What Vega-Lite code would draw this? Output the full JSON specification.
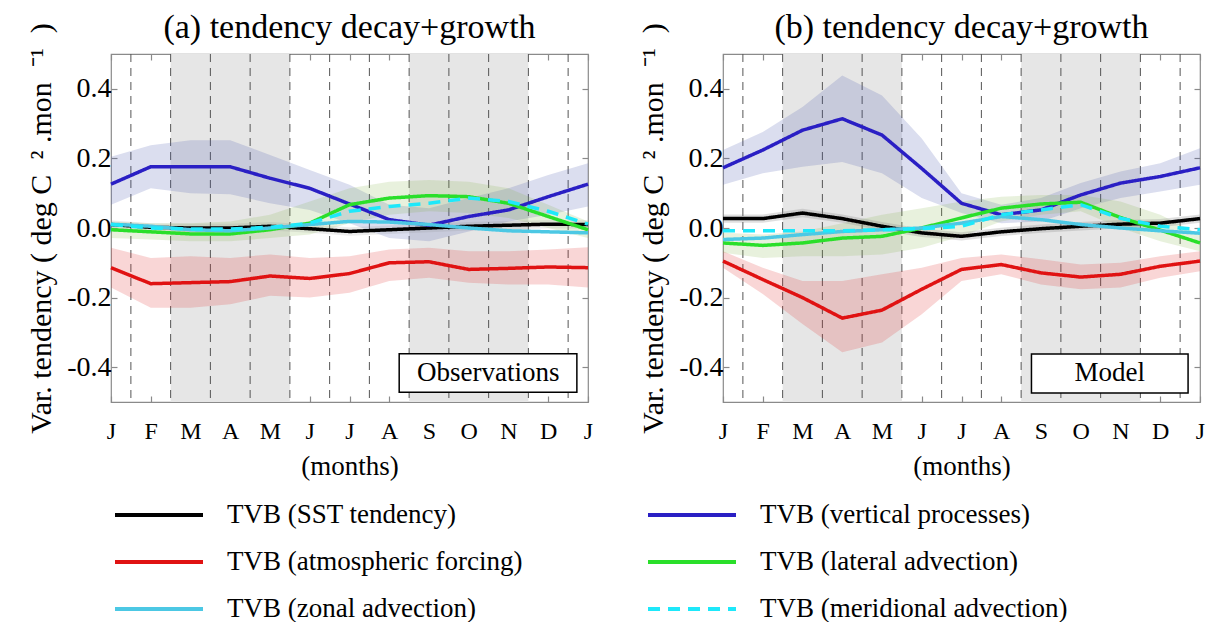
{
  "$schema": "https://vega.github.io/schema/vega-lite/v6.json",
  "padding": {"left": 26, "top": 10, "right": 0, "bottom": 0},
  "background": "white",
  "config": {
    "font": "Liberation Serif",
    "view": {"stroke": "#8a8a8a", "strokeWidth": 1.2},
    "title": {"font": "Liberation Serif", "fontSize": 34, "fontWeight": "normal", "color": "black", "offset": -22},
    "axis": {"labelFont": "Liberation Serif", "titleFont": "Liberation Serif", "labelColor": "black", "titleColor": "black", "titleFontWeight": "normal", "grid": false, "domain": false, "tickColor": "#8a8a8a", "tickWidth": 1.2},
    "legend": {"orient": "none", "legendX": 2, "legendY": 446, "columns": 2, "symbolType": "stroke", "symbolSize": 7744, "symbolStrokeWidth": 4, "clipHeight": 30, "labelFont": "Liberation Serif", "labelFontSize": 27, "labelColor": "black", "labelOffset": 22, "columnPadding": 123, "rowPadding": 17, "labelLimit": 600}
  },
  "datasets": {
    "one": [{}],
    "shade": [{"start": 1.5, "end": 4.5}, {"start": 7.5, "end": 10.5}],
    "grid": [{"m": 0.5}, {"m": 1.5}, {"m": 2.5}, {"m": 3.5}, {"m": 4.5}, {"m": 5.5}, {"m": 6.5}, {"m": 7.5}, {"m": 8.5}, {"m": 9.5}, {"m": 10.5}, {"m": 11.5}],
    "series": [
      {"p":"a","s":"TVB (SST tendency)","m":0,"v":0.01,"lo":-0.002,"hi":0.022},
      {"p":"a","s":"TVB (SST tendency)","m":1,"v":0.002,"lo":-0.01,"hi":0.014},
      {"p":"a","s":"TVB (SST tendency)","m":2,"v":0,"lo":-0.012,"hi":0.012},
      {"p":"a","s":"TVB (SST tendency)","m":3,"v":0,"lo":-0.012,"hi":0.012},
      {"p":"a","s":"TVB (SST tendency)","m":4,"v":0.005,"lo":-0.007,"hi":0.017},
      {"p":"a","s":"TVB (SST tendency)","m":5,"v":-0.002,"lo":-0.014,"hi":0.01},
      {"p":"a","s":"TVB (SST tendency)","m":6,"v":-0.01,"lo":-0.022,"hi":0.002},
      {"p":"a","s":"TVB (SST tendency)","m":7,"v":-0.005,"lo":-0.017,"hi":0.007},
      {"p":"a","s":"TVB (SST tendency)","m":8,"v":0,"lo":-0.012,"hi":0.012},
      {"p":"a","s":"TVB (SST tendency)","m":9,"v":0.005,"lo":-0.007,"hi":0.017},
      {"p":"a","s":"TVB (SST tendency)","m":10,"v":0.008,"lo":-0.004,"hi":0.02},
      {"p":"a","s":"TVB (SST tendency)","m":11,"v":0.011,"lo":-0.001,"hi":0.023},
      {"p":"a","s":"TVB (SST tendency)","m":12,"v":0.01,"lo":-0.002,"hi":0.022},
      {"p":"a","s":"TVB (vertical processes)","m":0,"v":0.126,"lo":0.067,"hi":0.205},
      {"p":"a","s":"TVB (vertical processes)","m":1,"v":0.176,"lo":0.114,"hi":0.238},
      {"p":"a","s":"TVB (vertical processes)","m":2,"v":0.176,"lo":0.1,"hi":0.252},
      {"p":"a","s":"TVB (vertical processes)","m":3,"v":0.176,"lo":0.097,"hi":0.252},
      {"p":"a","s":"TVB (vertical processes)","m":4,"v":0.143,"lo":0.071,"hi":0.21},
      {"p":"a","s":"TVB (vertical processes)","m":5,"v":0.114,"lo":0.052,"hi":0.167},
      {"p":"a","s":"TVB (vertical processes)","m":6,"v":0.069,"lo":0.014,"hi":0.124},
      {"p":"a","s":"TVB (vertical processes)","m":7,"v":0.024,"lo":-0.029,"hi":0.067},
      {"p":"a","s":"TVB (vertical processes)","m":8,"v":0.008,"lo":-0.038,"hi":0.057},
      {"p":"a","s":"TVB (vertical processes)","m":9,"v":0.033,"lo":-0.01,"hi":0.086},
      {"p":"a","s":"TVB (vertical processes)","m":10,"v":0.052,"lo":0.019,"hi":0.114},
      {"p":"a","s":"TVB (vertical processes)","m":11,"v":0.09,"lo":0.038,"hi":0.152},
      {"p":"a","s":"TVB (vertical processes)","m":12,"v":0.126,"lo":0.062,"hi":0.186},
      {"p":"a","s":"TVB (atmospheric forcing)","m":0,"v":-0.114,"lo":-0.171,"hi":-0.057},
      {"p":"a","s":"TVB (atmospheric forcing)","m":1,"v":-0.16,"lo":-0.229,"hi":-0.086},
      {"p":"a","s":"TVB (atmospheric forcing)","m":2,"v":-0.157,"lo":-0.229,"hi":-0.081},
      {"p":"a","s":"TVB (atmospheric forcing)","m":3,"v":-0.154,"lo":-0.219,"hi":-0.086},
      {"p":"a","s":"TVB (atmospheric forcing)","m":4,"v":-0.138,"lo":-0.195,"hi":-0.076},
      {"p":"a","s":"TVB (atmospheric forcing)","m":5,"v":-0.145,"lo":-0.2,"hi":-0.086},
      {"p":"a","s":"TVB (atmospheric forcing)","m":6,"v":-0.131,"lo":-0.186,"hi":-0.081},
      {"p":"a","s":"TVB (atmospheric forcing)","m":7,"v":-0.1,"lo":-0.152,"hi":-0.062},
      {"p":"a","s":"TVB (atmospheric forcing)","m":8,"v":-0.097,"lo":-0.143,"hi":-0.057},
      {"p":"a","s":"TVB (atmospheric forcing)","m":9,"v":-0.119,"lo":-0.157,"hi":-0.067},
      {"p":"a","s":"TVB (atmospheric forcing)","m":10,"v":-0.116,"lo":-0.162,"hi":-0.067},
      {"p":"a","s":"TVB (atmospheric forcing)","m":11,"v":-0.112,"lo":-0.162,"hi":-0.062},
      {"p":"a","s":"TVB (atmospheric forcing)","m":12,"v":-0.114,"lo":-0.171,"hi":-0.055},
      {"p":"a","s":"TVB (lateral advection)","m":0,"v":-0.005,"lo":-0.029,"hi":0.019},
      {"p":"a","s":"TVB (lateral advection)","m":1,"v":-0.011,"lo":-0.033,"hi":0.014},
      {"p":"a","s":"TVB (lateral advection)","m":2,"v":-0.017,"lo":-0.038,"hi":0.014},
      {"p":"a","s":"TVB (lateral advection)","m":3,"v":-0.017,"lo":-0.038,"hi":0.019},
      {"p":"a","s":"TVB (lateral advection)","m":4,"v":-0.005,"lo":-0.029,"hi":0.038},
      {"p":"a","s":"TVB (lateral advection)","m":5,"v":0.014,"lo":-0.019,"hi":0.076},
      {"p":"a","s":"TVB (lateral advection)","m":6,"v":0.067,"lo":0.014,"hi":0.114},
      {"p":"a","s":"TVB (lateral advection)","m":7,"v":0.086,"lo":0.038,"hi":0.133},
      {"p":"a","s":"TVB (lateral advection)","m":8,"v":0.093,"lo":0.048,"hi":0.138},
      {"p":"a","s":"TVB (lateral advection)","m":9,"v":0.09,"lo":0.043,"hi":0.133},
      {"p":"a","s":"TVB (lateral advection)","m":10,"v":0.071,"lo":0.029,"hi":0.114},
      {"p":"a","s":"TVB (lateral advection)","m":11,"v":0.033,"lo":0,"hi":0.067},
      {"p":"a","s":"TVB (lateral advection)","m":12,"v":-0.005,"lo":-0.029,"hi":0.019},
      {"p":"a","s":"TVB (zonal advection)","m":0,"v":0.011},
      {"p":"a","s":"TVB (zonal advection)","m":1,"v":0.005},
      {"p":"a","s":"TVB (zonal advection)","m":2,"v":-0.005},
      {"p":"a","s":"TVB (zonal advection)","m":3,"v":-0.008},
      {"p":"a","s":"TVB (zonal advection)","m":4,"v":0},
      {"p":"a","s":"TVB (zonal advection)","m":5,"v":0.01},
      {"p":"a","s":"TVB (zonal advection)","m":6,"v":0.019},
      {"p":"a","s":"TVB (zonal advection)","m":7,"v":0.017},
      {"p":"a","s":"TVB (zonal advection)","m":8,"v":0.01},
      {"p":"a","s":"TVB (zonal advection)","m":9,"v":0},
      {"p":"a","s":"TVB (zonal advection)","m":10,"v":-0.008},
      {"p":"a","s":"TVB (zonal advection)","m":11,"v":-0.011},
      {"p":"a","s":"TVB (zonal advection)","m":12,"v":-0.014},
      {"p":"a","s":"TVB (meridional advection)","m":0,"v":0.01},
      {"p":"a","s":"TVB (meridional advection)","m":1,"v":0},
      {"p":"a","s":"TVB (meridional advection)","m":2,"v":-0.003},
      {"p":"a","s":"TVB (meridional advection)","m":3,"v":-0.003},
      {"p":"a","s":"TVB (meridional advection)","m":4,"v":0.002},
      {"p":"a","s":"TVB (meridional advection)","m":5,"v":0.014},
      {"p":"a","s":"TVB (meridional advection)","m":6,"v":0.048},
      {"p":"a","s":"TVB (meridional advection)","m":7,"v":0.062},
      {"p":"a","s":"TVB (meridional advection)","m":8,"v":0.071},
      {"p":"a","s":"TVB (meridional advection)","m":9,"v":0.086},
      {"p":"a","s":"TVB (meridional advection)","m":10,"v":0.076},
      {"p":"a","s":"TVB (meridional advection)","m":11,"v":0.048},
      {"p":"a","s":"TVB (meridional advection)","m":12,"v":0.011},
      {"p":"b","s":"TVB (SST tendency)","m":0,"v":0.027,"lo":0.015,"hi":0.039},
      {"p":"b","s":"TVB (SST tendency)","m":1,"v":0.027,"lo":0.015,"hi":0.039},
      {"p":"b","s":"TVB (SST tendency)","m":2,"v":0.043,"lo":0.031,"hi":0.055},
      {"p":"b","s":"TVB (SST tendency)","m":3,"v":0.027,"lo":0.015,"hi":0.039},
      {"p":"b","s":"TVB (SST tendency)","m":4,"v":0.005,"lo":-0.007,"hi":0.017},
      {"p":"b","s":"TVB (SST tendency)","m":5,"v":-0.014,"lo":-0.026,"hi":-0.002},
      {"p":"b","s":"TVB (SST tendency)","m":6,"v":-0.024,"lo":-0.036,"hi":-0.012},
      {"p":"b","s":"TVB (SST tendency)","m":7,"v":-0.011,"lo":-0.023,"hi":0.001},
      {"p":"b","s":"TVB (SST tendency)","m":8,"v":-0.002,"lo":-0.014,"hi":0.01},
      {"p":"b","s":"TVB (SST tendency)","m":9,"v":0.005,"lo":-0.007,"hi":0.017},
      {"p":"b","s":"TVB (SST tendency)","m":10,"v":0.011,"lo":-0.001,"hi":0.023},
      {"p":"b","s":"TVB (SST tendency)","m":11,"v":0.014,"lo":0.002,"hi":0.026},
      {"p":"b","s":"TVB (SST tendency)","m":12,"v":0.027,"lo":0.015,"hi":0.039},
      {"p":"b","s":"TVB (vertical processes)","m":0,"v":0.173,"lo":0.124,"hi":0.224},
      {"p":"b","s":"TVB (vertical processes)","m":1,"v":0.224,"lo":0.157,"hi":0.276},
      {"p":"b","s":"TVB (vertical processes)","m":2,"v":0.281,"lo":0.176,"hi":0.348},
      {"p":"b","s":"TVB (vertical processes)","m":3,"v":0.314,"lo":0.19,"hi":0.438},
      {"p":"b","s":"TVB (vertical processes)","m":4,"v":0.267,"lo":0.157,"hi":0.381},
      {"p":"b","s":"TVB (vertical processes)","m":5,"v":0.171,"lo":0.086,"hi":0.257},
      {"p":"b","s":"TVB (vertical processes)","m":6,"v":0.071,"lo":0.043,"hi":0.1},
      {"p":"b","s":"TVB (vertical processes)","m":7,"v":0.038,"lo":0.014,"hi":0.067},
      {"p":"b","s":"TVB (vertical processes)","m":8,"v":0.052,"lo":0.019,"hi":0.086},
      {"p":"b","s":"TVB (vertical processes)","m":9,"v":0.095,"lo":0.057,"hi":0.129},
      {"p":"b","s":"TVB (vertical processes)","m":10,"v":0.129,"lo":0.086,"hi":0.162},
      {"p":"b","s":"TVB (vertical processes)","m":11,"v":0.148,"lo":0.105,"hi":0.186},
      {"p":"b","s":"TVB (vertical processes)","m":12,"v":0.173,"lo":0.124,"hi":0.229},
      {"p":"b","s":"TVB (atmospheric forcing)","m":0,"v":-0.095,"lo":-0.114,"hi":-0.067},
      {"p":"b","s":"TVB (atmospheric forcing)","m":1,"v":-0.148,"lo":-0.19,"hi":-0.114},
      {"p":"b","s":"TVB (atmospheric forcing)","m":2,"v":-0.2,"lo":-0.276,"hi":-0.152},
      {"p":"b","s":"TVB (atmospheric forcing)","m":3,"v":-0.259,"lo":-0.357,"hi":-0.152},
      {"p":"b","s":"TVB (atmospheric forcing)","m":4,"v":-0.236,"lo":-0.329,"hi":-0.133},
      {"p":"b","s":"TVB (atmospheric forcing)","m":5,"v":-0.176,"lo":-0.248,"hi":-0.114},
      {"p":"b","s":"TVB (atmospheric forcing)","m":6,"v":-0.119,"lo":-0.152,"hi":-0.086},
      {"p":"b","s":"TVB (atmospheric forcing)","m":7,"v":-0.105,"lo":-0.133,"hi":-0.076},
      {"p":"b","s":"TVB (atmospheric forcing)","m":8,"v":-0.129,"lo":-0.162,"hi":-0.09},
      {"p":"b","s":"TVB (atmospheric forcing)","m":9,"v":-0.141,"lo":-0.176,"hi":-0.105},
      {"p":"b","s":"TVB (atmospheric forcing)","m":10,"v":-0.133,"lo":-0.171,"hi":-0.1},
      {"p":"b","s":"TVB (atmospheric forcing)","m":11,"v":-0.11,"lo":-0.143,"hi":-0.081},
      {"p":"b","s":"TVB (atmospheric forcing)","m":12,"v":-0.095,"lo":-0.124,"hi":-0.067},
      {"p":"b","s":"TVB (lateral advection)","m":0,"v":-0.043,"lo":-0.071,"hi":-0.014},
      {"p":"b","s":"TVB (lateral advection)","m":1,"v":-0.05,"lo":-0.086,"hi":-0.019},
      {"p":"b","s":"TVB (lateral advection)","m":2,"v":-0.043,"lo":-0.081,"hi":-0.01},
      {"p":"b","s":"TVB (lateral advection)","m":3,"v":-0.029,"lo":-0.081,"hi":0.014},
      {"p":"b","s":"TVB (lateral advection)","m":4,"v":-0.024,"lo":-0.076,"hi":0.038},
      {"p":"b","s":"TVB (lateral advection)","m":5,"v":0,"lo":-0.057,"hi":0.057},
      {"p":"b","s":"TVB (lateral advection)","m":6,"v":0.029,"lo":-0.024,"hi":0.076},
      {"p":"b","s":"TVB (lateral advection)","m":7,"v":0.057,"lo":0.019,"hi":0.09},
      {"p":"b","s":"TVB (lateral advection)","m":8,"v":0.069,"lo":0.038,"hi":0.095},
      {"p":"b","s":"TVB (lateral advection)","m":9,"v":0.074,"lo":0.048,"hi":0.095},
      {"p":"b","s":"TVB (lateral advection)","m":10,"v":0.03,"lo":0,"hi":0.076},
      {"p":"b","s":"TVB (lateral advection)","m":11,"v":-0.006,"lo":-0.038,"hi":0.038},
      {"p":"b","s":"TVB (lateral advection)","m":12,"v":-0.043,"lo":-0.067,"hi":-0.019},
      {"p":"b","s":"TVB (zonal advection)","m":0,"v":-0.033},
      {"p":"b","s":"TVB (zonal advection)","m":1,"v":-0.029},
      {"p":"b","s":"TVB (zonal advection)","m":2,"v":-0.019},
      {"p":"b","s":"TVB (zonal advection)","m":3,"v":-0.01},
      {"p":"b","s":"TVB (zonal advection)","m":4,"v":-0.005},
      {"p":"b","s":"TVB (zonal advection)","m":5,"v":0},
      {"p":"b","s":"TVB (zonal advection)","m":6,"v":0.014},
      {"p":"b","s":"TVB (zonal advection)","m":7,"v":0.033},
      {"p":"b","s":"TVB (zonal advection)","m":8,"v":0.024},
      {"p":"b","s":"TVB (zonal advection)","m":9,"v":0.01},
      {"p":"b","s":"TVB (zonal advection)","m":10,"v":0},
      {"p":"b","s":"TVB (zonal advection)","m":11,"v":-0.008},
      {"p":"b","s":"TVB (zonal advection)","m":12,"v":-0.015},
      {"p":"b","s":"TVB (meridional advection)","m":0,"v":-0.008},
      {"p":"b","s":"TVB (meridional advection)","m":1,"v":-0.008},
      {"p":"b","s":"TVB (meridional advection)","m":2,"v":-0.008},
      {"p":"b","s":"TVB (meridional advection)","m":3,"v":-0.008},
      {"p":"b","s":"TVB (meridional advection)","m":4,"v":-0.005},
      {"p":"b","s":"TVB (meridional advection)","m":5,"v":-0.002},
      {"p":"b","s":"TVB (meridional advection)","m":6,"v":0.005},
      {"p":"b","s":"TVB (meridional advection)","m":7,"v":0.038},
      {"p":"b","s":"TVB (meridional advection)","m":8,"v":0.052},
      {"p":"b","s":"TVB (meridional advection)","m":9,"v":0.067},
      {"p":"b","s":"TVB (meridional advection)","m":10,"v":0.028},
      {"p":"b","s":"TVB (meridional advection)","m":11,"v":0.005},
      {"p":"b","s":"TVB (meridional advection)","m":12,"v":-0.005}
    ]
  },
  "hconcat": [
    {
      "width": 477,
      "height": 348,
      "title": {"text": "(a) tendency decay+growth"},
      "resolve": {"axis": {"x": "independent", "y": "independent"}},
      "layer": [
        {
          "data": {"name": "shade"},
          "mark": {"type": "rect", "color": "#e6e6e6"},
          "encoding": {
            "x": {"field": "start", "type": "quantitative", "scale": {"domain": [0, 12], "nice": false, "zero": false},
                  "axis": {"orient": "bottom", "values": [0,1,2,3,4,5,6,7,8,9,10,11,12], "labelExpr": "['J','F','M','A','M','J','J','A','S','O','N','D','J'][datum.value]", "labelFontSize": 24, "labelPadding": 23, "tickSize": -6, "labelFlush": false, "title": "(months)", "titleFontSize": 27, "titlePadding": 10}},
            "x2": {"field": "end"}
          }
        },
        {
          "data": {"name": "grid"},
          "mark": {"type": "rule", "color": "#555555", "strokeWidth": 1, "strokeDash": [8, 6]},
          "encoding": {
            "x": {"field": "m", "type": "quantitative", "axis": {"orient": "top", "values": [0,1,2,3,4,5,6,7,8,9,10,11,12], "labels": false, "tickSize": -6, "title": null}}
          }
        },
        {
          "data": {"name": "series"},
          "transform": [{"filter": "datum.p == 'a' && datum.s == 'TVB (vertical processes)'"}],
          "mark": {"type": "area", "color": "#4a58b0", "opacity": 0.2},
          "encoding": {
            "x": {"field": "m", "type": "quantitative", "axis": null},
            "y": {"field": "lo", "type": "quantitative", "scale": {"domain": [-0.5, 0.5], "nice": false, "zero": false},
                  "axis": {"orient": "left", "values": [-0.4, -0.2, 0, 0.2, 0.4], "labelExpr": "replace(format(datum.value, '.1f'), '\u2212', '-')", "labelFontSize": 28, "labelPadding": 6, "tickSize": -6, "title": "Var. tendency ( deg C\u00a0\u00a0\u00b2\u00a0.mon\u00a0\u00a0\u207b\u00b9\u00a0\u00a0)\u00a0\u00a0\u00a0", "titleFontSize": 30, "titlePadding": 10}},
            "y2": {"field": "hi"}
          }
        },
        {
          "data": {"name": "series"},
          "transform": [{"filter": "datum.p == 'a' && datum.s == 'TVB (atmospheric forcing)'"}],
          "mark": {"type": "area", "color": "#e03030", "opacity": 0.2},
          "encoding": {
            "x": {"field": "m", "type": "quantitative", "axis": null},
            "y": {"field": "lo", "type": "quantitative", "axis": null},
            "y2": {"field": "hi"}
          }
        },
        {
          "data": {"name": "series"},
          "transform": [{"filter": "datum.p == 'a' && datum.s == 'TVB (lateral advection)'"}],
          "mark": {"type": "area", "color": "#80b040", "opacity": 0.18},
          "encoding": {
            "x": {"field": "m", "type": "quantitative", "axis": null},
            "y": {"field": "lo", "type": "quantitative", "axis": null},
            "y2": {"field": "hi"}
          }
        },
        {
          "data": {"name": "series"},
          "transform": [{"filter": "datum.p == 'a' && datum.s == 'TVB (SST tendency)'"}],
          "mark": {"type": "area", "color": "#808080", "opacity": 0.15},
          "encoding": {
            "x": {"field": "m", "type": "quantitative", "axis": null},
            "y": {"field": "lo", "type": "quantitative", "axis": null},
            "y2": {"field": "hi"}
          }
        },
        {
          "data": {"name": "series"},
          "transform": [{"filter": "datum.p == 'a'"}],
          "mark": {"type": "line", "strokeWidth": 3.5},
          "encoding": {
            "x": {"field": "m", "type": "quantitative", "axis": null},
            "y": {"field": "v", "type": "quantitative", "axis": {"orient": "right", "values": [-0.4, -0.2, 0, 0.2, 0.4], "labels": false, "tickSize": -6, "title": null}},
            "color": {"field": "s", "type": "nominal", "sort": null,
                      "scale": {"domain": ["TVB (SST tendency)", "TVB (atmospheric forcing)", "TVB (zonal advection)", "TVB (vertical processes)", "TVB (lateral advection)", "TVB (meridional advection)"],
                                "range": ["#000000", "#e01212", "#4cc8e4", "#2a1fc4", "#2adf2a", "#1ee8fa"]},
                      "legend": {"title": null}},
            "strokeDash": {"field": "s", "type": "nominal", "sort": null,
                      "scale": {"domain": ["TVB (SST tendency)", "TVB (atmospheric forcing)", "TVB (zonal advection)", "TVB (vertical processes)", "TVB (lateral advection)", "TVB (meridional advection)"],
                                "range": [[1, 0], [1, 0], [1, 0], [1, 0], [1, 0], [12, 8]]},
                      "legend": {"title": null}}
          }
        },
        {
          "data": {"name": "one"},
          "mark": {"type": "rect", "fill": "white", "stroke": "black", "strokeWidth": 1.5},
          "encoding": {
            "x": {"datum": 7.25, "type": "quantitative", "axis": null},
            "x2": {"datum": 11.72},
            "y": {"datum": -0.361, "type": "quantitative", "axis": null},
            "y2": {"datum": -0.472}
          }
        },
        {
          "data": {"name": "one"},
          "mark": {"type": "text", "text": "Observations", "fontSize": 27, "font": "Liberation Serif", "color": "black"},
          "encoding": {
            "x": {"datum": 9.49, "type": "quantitative", "axis": null},
            "y": {"datum": -0.4165, "type": "quantitative", "axis": null}
          }
        }
      ]
    },
    {
      "width": 477,
      "height": 348,
      "title": {"text": "(b) tendency decay+growth"},
      "resolve": {"axis": {"x": "independent", "y": "independent"}},
      "layer": [
        {
          "data": {"name": "shade"},
          "mark": {"type": "rect", "color": "#e6e6e6"},
          "encoding": {
            "x": {"field": "start", "type": "quantitative", "scale": {"domain": [0, 12], "nice": false, "zero": false},
                  "axis": {"orient": "bottom", "values": [0,1,2,3,4,5,6,7,8,9,10,11,12], "labelExpr": "['J','F','M','A','M','J','J','A','S','O','N','D','J'][datum.value]", "labelFontSize": 24, "labelPadding": 23, "tickSize": -6, "labelFlush": false, "title": "(months)", "titleFontSize": 27, "titlePadding": 10}},
            "x2": {"field": "end"}
          }
        },
        {
          "data": {"name": "grid"},
          "mark": {"type": "rule", "color": "#555555", "strokeWidth": 1, "strokeDash": [8, 6]},
          "encoding": {
            "x": {"field": "m", "type": "quantitative", "axis": {"orient": "top", "values": [0,1,2,3,4,5,6,7,8,9,10,11,12], "labels": false, "tickSize": -6, "title": null}}
          }
        },
        {
          "data": {"name": "series"},
          "transform": [{"filter": "datum.p == 'b' && datum.s == 'TVB (vertical processes)'"}],
          "mark": {"type": "area", "color": "#4a58b0", "opacity": 0.2},
          "encoding": {
            "x": {"field": "m", "type": "quantitative", "axis": null},
            "y": {"field": "lo", "type": "quantitative", "scale": {"domain": [-0.5, 0.5], "nice": false, "zero": false},
                  "axis": {"orient": "left", "values": [-0.4, -0.2, 0, 0.2, 0.4], "labelExpr": "replace(format(datum.value, '.1f'), '\u2212', '-')", "labelFontSize": 28, "labelPadding": 6, "tickSize": -6, "title": "Var. tendency ( deg C\u00a0\u00a0\u00b2\u00a0.mon\u00a0\u00a0\u207b\u00b9\u00a0\u00a0)\u00a0\u00a0\u00a0", "titleFontSize": 30, "titlePadding": 10}},
            "y2": {"field": "hi"}
          }
        },
        {
          "data": {"name": "series"},
          "transform": [{"filter": "datum.p == 'b' && datum.s == 'TVB (atmospheric forcing)'"}],
          "mark": {"type": "area", "color": "#e03030", "opacity": 0.2},
          "encoding": {
            "x": {"field": "m", "type": "quantitative", "axis": null},
            "y": {"field": "lo", "type": "quantitative", "axis": null},
            "y2": {"field": "hi"}
          }
        },
        {
          "data": {"name": "series"},
          "transform": [{"filter": "datum.p == 'b' && datum.s == 'TVB (lateral advection)'"}],
          "mark": {"type": "area", "color": "#80b040", "opacity": 0.18},
          "encoding": {
            "x": {"field": "m", "type": "quantitative", "axis": null},
            "y": {"field": "lo", "type": "quantitative", "axis": null},
            "y2": {"field": "hi"}
          }
        },
        {
          "data": {"name": "series"},
          "transform": [{"filter": "datum.p == 'b' && datum.s == 'TVB (SST tendency)'"}],
          "mark": {"type": "area", "color": "#808080", "opacity": 0.25},
          "encoding": {
            "x": {"field": "m", "type": "quantitative", "axis": null},
            "y": {"field": "lo", "type": "quantitative", "axis": null},
            "y2": {"field": "hi"}
          }
        },
        {
          "data": {"name": "series"},
          "transform": [{"filter": "datum.p == 'b'"}],
          "mark": {"type": "line", "strokeWidth": 3.5},
          "encoding": {
            "x": {"field": "m", "type": "quantitative", "axis": null},
            "y": {"field": "v", "type": "quantitative", "axis": {"orient": "right", "values": [-0.4, -0.2, 0, 0.2, 0.4], "labels": false, "tickSize": -6, "title": null}},
            "color": {"field": "s", "type": "nominal", "sort": null, "legend": {"title": null}},
            "strokeDash": {"field": "s", "type": "nominal", "sort": null, "legend": {"title": null}}
          }
        },
        {
          "data": {"name": "one"},
          "mark": {"type": "rect", "fill": "white", "stroke": "black", "strokeWidth": 1.5},
          "encoding": {
            "x": {"datum": 7.76, "type": "quantitative", "axis": null},
            "x2": {"datum": 11.7},
            "y": {"datum": -0.362, "type": "quantitative", "axis": null},
            "y2": {"datum": -0.474}
          }
        },
        {
          "data": {"name": "one"},
          "mark": {"type": "text", "text": "Model", "fontSize": 27, "font": "Liberation Serif", "color": "black"},
          "encoding": {
            "x": {"datum": 9.73, "type": "quantitative", "axis": null},
            "y": {"datum": -0.418, "type": "quantitative", "axis": null}
          }
        }
      ]
    }
  ],
  "spacing": 135,
  "bounds": "flush",
  "resolve": {"scale": {"color": "shared", "strokeDash": "shared"}}
}
